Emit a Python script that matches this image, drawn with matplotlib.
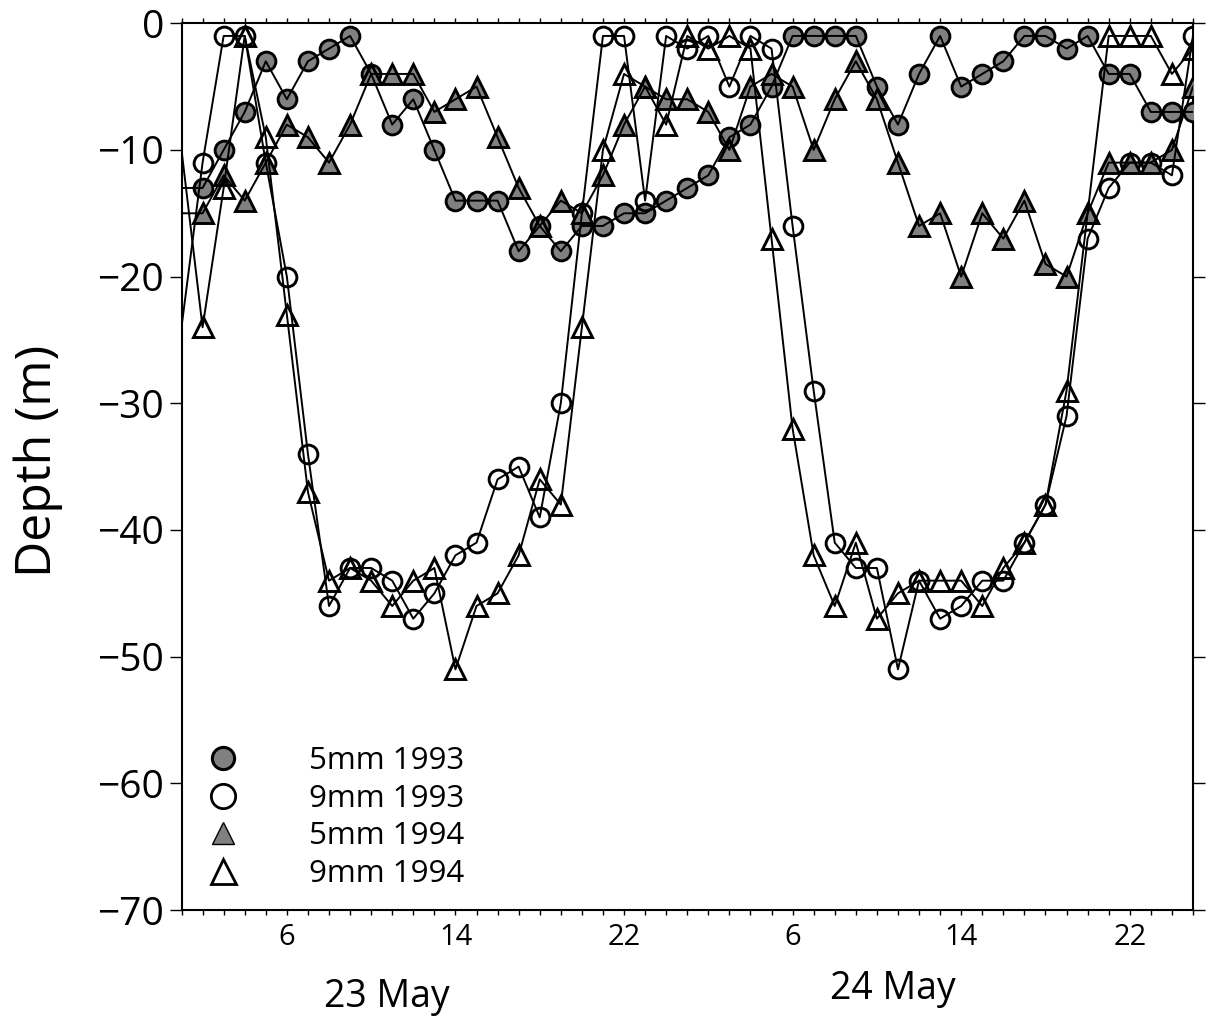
import matplotlib as mpl
import matplotlib.pyplot as plt
from matplotlib.lines import Line2D
import matplotlib.transforms as mtransforms

mpl.rcParams.update({
    "font.family": ["Open Sans", "DejaVu Sans"],
    "axes.linewidth": 1.5,
})

# hours counted from 00:00 on 23 May (25 = 01:00 on 24 May)
HOURS = list(range(1, 50))

mm5_1993 = [-13, -13, -10, -7, -3, -6, -3, -2, -1, -4,
            -8, -6, -10, -14, -14, -14, -18, -16, -18, -16,
            -16, -15, -15, -14, -13, -12, -9, -8, -5, -1,
            -1, -1, -1, -5, -8, -4, -1, -5, -4, -3,
            -1, -1, -2, -1, -4, -4, -7, -7, -7]
mm9_1993 = [-24, -11, -1, -1, -11, -20, -34, -46, -43, -43,
            -44, -47, -45, -42, -41, -36, -35, -39, -30, -15,
            -1, -1, -14, -1, -2, -1, -5, -1, -2, -16,
            -29, -41, -43, -43, -51, -44, -47, -46, -44, -44,
            -41, -38, -31, -17, -13, -11, -11, -12, -1]
mm5_1994 = [-15, -15, -12, -14, -11, -8, -9, -11, -8, -4,
            -4, -4, -7, -6, -5, -9, -13, -16, -14, -15,
            -12, -8, -5, -6, -6, -7, -10, -5, -4, -5,
            -10, -6, -3, -6, -11, -16, -15, -20, -15, -17,
            -14, -19, -20, -15, -11, -11, -11, -10, -5]
mm9_1994 = [-10, -24, -13, -1, -9, -23, -37, -44, -43, -44,
            -46, -44, -43, -51, -46, -45, -42, -36, -38, -24,
            -10, -4, -5, -8, -1, -2, -1, -2, -17, -32,
            -42, -46, -41, -47, -45, -44, -44, -44, -46, -43,
            -41, -38, -29, -15, -1, -1, -1, -4, -2]

LABELS = ["5mm 1993", "9mm 1993", "5mm 1994", "9mm 1994"]
HOUR_TICKS = [6, 14, 22, 30, 38, 46]
HOUR_TICK_LABELS = ["6", "14", "22", "6", "14", "22"]
DAYS = ["23 May", "24 May"]
DAY_POS = [10.75, 34.75]
DEPTH_TICKS = [0, -10, -20, -30, -40, -50, -60, -70]

GRAY = "#808080"
SERIES = [
    (mm5_1993, "o", GRAY),
    (mm9_1993, "o", "none"),
    (mm5_1994, "^", GRAY),
    (mm9_1994, "^", "none"),
]

fig = plt.figure(figsize=(12.06, 10.16), dpi=100)
ax = fig.add_axes([0.1505, 0.1043, 0.8387, 0.8728])

for vals, mk, fc in SERIES:
    ms = 13.5 if mk == "o" else 15
    # first hour sits on the frame: line only, no symbol
    ax.plot(HOURS[1:], vals[1:], ls="none", marker=mk, ms=ms, mfc=fc,
            mec="black", mew=2.1, zorder=3)
    ax.plot(HOURS, vals, color="black", lw=1.4, zorder=4)

ax.set_xlim(1, 49)
ax.set_ylim(-70, 0)
ax.set_xticks(HOUR_TICKS)
ax.set_xticklabels(HOUR_TICK_LABELS, fontsize=21)
ax.set_xticks(HOURS, minor=True)
ax.set_yticks(DEPTH_TICKS)
ax.tick_params(axis="x", which="both", direction="out", length=3.6, width=1,
               top=True, bottom=True, pad=6)
ax.tick_params(axis="y", which="both", direction="out", length=8.6, width=1,
               left=True, right=True, labelsize=28, pad=4)

trans = mtransforms.blended_transform_factory(ax.transData, ax.transAxes)
for day, x, yb in zip(DAYS, DAY_POS, [-0.109, -0.1007]):
    ax.text(x, yb, day, transform=trans, ha="center", va="baseline", fontsize=27)

fig.text(38 / 1206, 1 - 460.5 / 1016, "Depth (m)", rotation=90,
         ha="center", va="center", fontsize=36)

handles = [
    Line2D([], [], ls="none", marker="o", ms=16, mfc=GRAY, mec="black", mew=2.2),
    Line2D([], [], ls="none", marker="o", ms=17.5, mfc="none", mec="black", mew=2),
    Line2D([], [], ls="none", marker="^", ms=16, mfc=GRAY, mec="black", mew=1),
    Line2D([], [], ls="none", marker="^", ms=18, mfc="none", mec="black", mew=2),
]
ax.legend(handles, LABELS, loc="upper left", bbox_to_anchor=(0.0104, 0.1853),
          frameon=False, fontsize=22.5, handlelength=2.0, handletextpad=1.74,
          labelspacing=0.25, borderpad=0, borderaxespad=0)

fig.savefig("out.png", dpi=100, facecolor="white")
